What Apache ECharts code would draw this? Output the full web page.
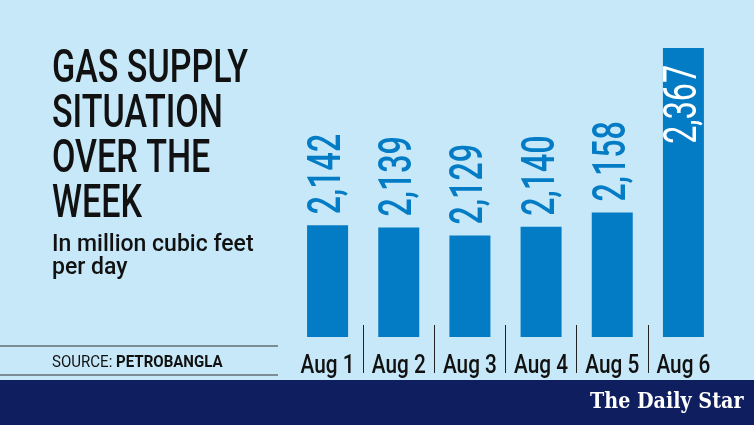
<!DOCTYPE html>
<html>
<head>
<meta charset="utf-8">
<script src="https://cdn.jsdelivr.net/npm/echarts@6/dist/echarts.min.js"></script>
<style>
  html, body { margin: 0; padding: 0; background: #c6e8f8; }
  #chart { width: 754px; height: 425px; }
</style>
</head>
<body>
<div id="chart"></div>
<script>
// gas supply, million cubic feet per day
var days = ['Aug 1', 'Aug 2', 'Aug 3', 'Aug 4', 'Aug 5', 'Aug 6']
var supply = [2142, 2139, 2129, 2140, 2158, 2367]
var titleLines = ['GAS SUPPLY', 'SITUATION', 'OVER THE', 'WEEK']
var subtitleLines = ['In million cubic feet', 'per day']

var BLUE = '#047cc5'
var NAVY = '#0e1e5e'
var FONT = 'Roboto'
var BASE = 2000

var chart = echarts.init(document.getElementById('chart'))

var maxSupply = Math.max.apply(null, supply)

// value labels (rotated) + day names, squeezed to look like a condensed face
function renderLabels(params, api) {
  var i = api.value(0)
  var v = api.value(1)
  var pt = api.coord([i, v])
  var base = api.coord([i, BASE])
  var inside = v === maxSupply
  var al = inside ? 'right' : 'left'
  return {
    type: 'group',
    children: [
      {
        type: 'text',
        x: pt[0] + 1,
        y: inside ? pt[1] + 17 : pt[1] - 11,
        rotation: Math.PI / 2,
        scaleX: 0.7,
        z2: 10,
        style: {
          text: v.toLocaleString('en-US'),
          fill: inside ? '#fff' : BLUE,
          fontSize: 46,
          fontWeight: inside ? 400 : 500,
          fontFamily: FONT,
          align: al, textAlign: al,
          verticalAlign: 'middle', textVerticalAlign: 'middle'
        }
      },
      {
        type: 'text',
        x: base[0],
        y: base[1] + 16,
        scaleX: 0.8,
        style: {
          text: days[i],
          fill: '#111',
          fontSize: 26,
          fontWeight: 500,
          fontFamily: FONT,
          align: 'center',
          verticalAlign: 'top'
        }
      }
    ]
  }
}

var graphics = []
titleLines.forEach(function (t, i) {
  graphics.push({
    type: 'text', left: 52, top: 47 + i * 45, scaleX: 0.74,
    style: { text: t, fill: '#111', fontSize: 46, fontWeight: 500, fontFamily: FONT }
  })
})
subtitleLines.forEach(function (t, i) {
  graphics.push({
    type: 'text', left: 52, top: 234 + i * 23, scaleX: 1,
    style: { text: t, fill: '#111', fontSize: 23, fontWeight: 500, fontFamily: FONT }
  })
})
graphics.push(
  { type: 'line', shape: { x1: 0, y1: 346, x2: 278, y2: 346 }, style: { stroke: '#333', lineWidth: 1 } },
  { type: 'line', shape: { x1: 0, y1: 375, x2: 278, y2: 375 }, style: { stroke: '#333', lineWidth: 1 } },
  {
    type: 'text', left: 52, top: 355, scaleX: 0.94,
    style: {
      text: '{a|SOURCE: }{b|PETROBANGLA}',
      rich: {
        a: { fontSize: 16, fontFamily: FONT, fill: '#111' },
        b: { fontSize: 16, fontFamily: FONT, fontWeight: 'bold', fill: '#111' }
      }
    }
  },
  { type: 'rect', shape: { x: 0, y: 380, width: 754, height: 45 }, style: { fill: NAVY } },
  {
    type: 'text', x: 590, y: 391, scaleX: 0.87,
    style: { text: 'The Daily Star', fill: '#fff', fontSize: 22, fontWeight: 'bold', fontFamily: 'DejaVu Serif' }
  }
)

var option = {
  backgroundColor: '#c6e8f8',
  animation: false,
  graphic: graphics,
  grid: [
    { left: 292, width: 427, top: 48, bottom: 88 },
    { left: 292, width: 427, top: 325, height: 48 }
  ],
  xAxis: [
    {
      type: 'category', gridIndex: 0, data: days,
      axisLine: { show: false }, axisTick: { show: false }, axisLabel: { show: false }
    },
    {
      // thin separators between the day names
      type: 'category', gridIndex: 1, data: days,
      axisLine: { show: false }, axisTick: { show: false }, axisLabel: { show: false },
      splitLine: { show: true, showMinLine: false, showMaxLine: false, lineStyle: { color: '#222', width: 1 } }
    }
  ],
  yAxis: [
    { type: 'value', gridIndex: 0, min: BASE, max: maxSupply, show: false },
    { type: 'value', gridIndex: 1, show: false }
  ],
  series: [
    {
      type: 'bar', xAxisIndex: 0, yAxisIndex: 0,
      data: supply, barWidth: 41, z: 2,
      itemStyle: { color: BLUE }
    },
    {
      type: 'custom', xAxisIndex: 0, yAxisIndex: 0, z: 5,
      data: supply.map(function (v, i) { return [i, v] }),
      renderItem: renderLabels,
      clip: false, silent: true
    }
  ]
}

chart.setOption(option)
</script>
</body>
</html>
